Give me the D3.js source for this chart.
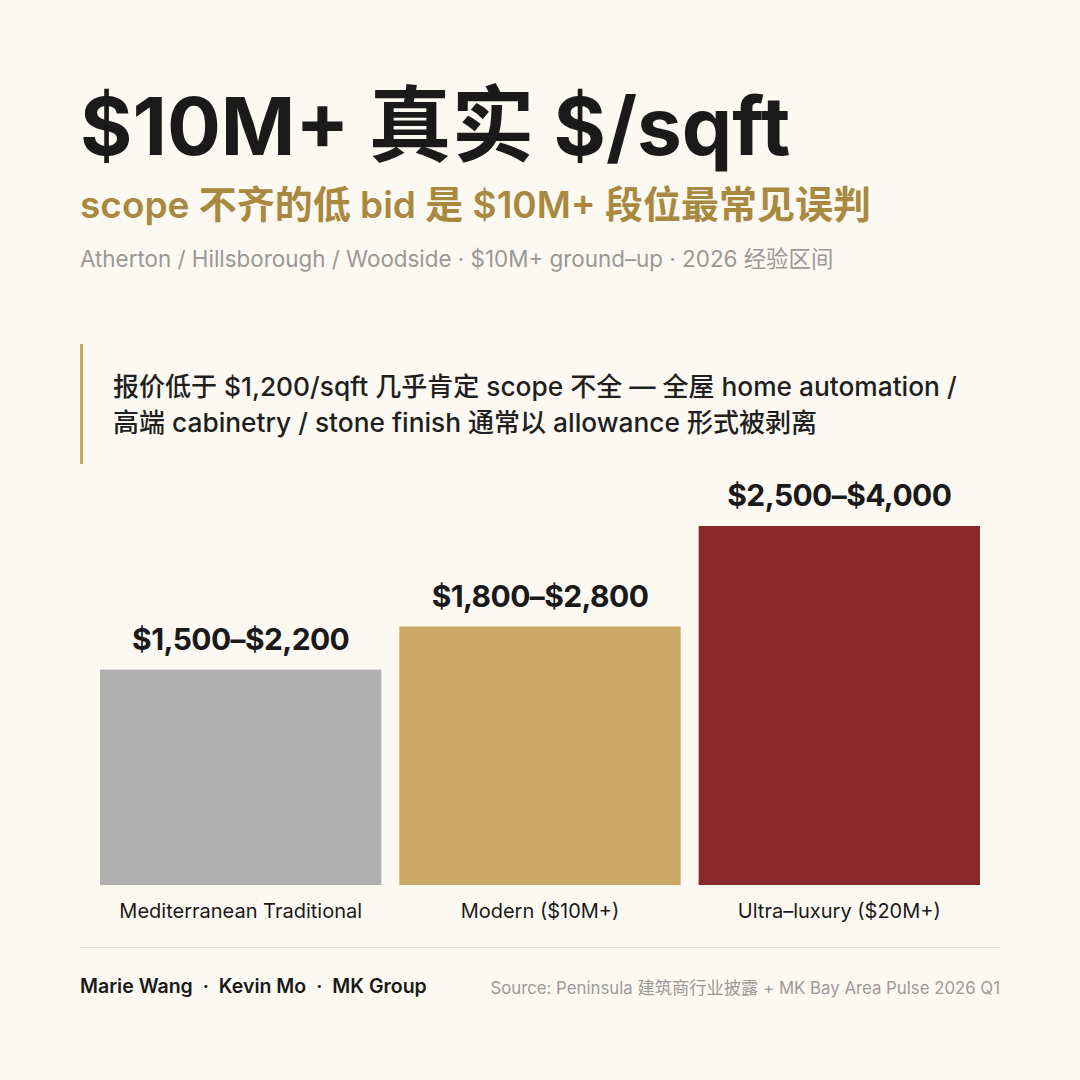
<!DOCTYPE html>
<html>
<head>
<meta charset="utf-8">
<script src="https://cdn.jsdelivr.net/npm/d3@7"></script>
<style>
  html, body { margin: 0; padding: 0; background: #fcf9f2; }
  svg { display: block; font-family: Inter, "Noto Sans CJK SC", sans-serif; }
</style>
</head>
<body>
<svg></svg>
<script>
// data
const categories = ['Mediterranean Traditional', 'Modern ($10M+)', 'Ultra-luxury ($20M+)'];
const lowValues = [1500, 1800, 2500];
const highValues = [2200, 2800, 4000];
const barColors = ['#b0b0b0', '#c9a865', '#8a292c'];

const W = 1080, H = 1080;
const svg = d3.select('svg')
    .attr('width', W)
    .attr('height', H);

svg.append('rect')
    .attr('width', W)
    .attr('height', H)
    .attr('fill', '#fcf9f2');

const fmt = d3.format('$,');

// mixed latin / CJK text: the CJK runs get their own size
const cjkRe = /[\u3000-\u9fff\uff00-\uffef]/;
function rich(x, y, str, latinSize, cjkSize) {
  const t = svg.append('text').attr('x', x).attr('y', y);
  const runs = str.match(/[\u3000-\u9fff\uff00-\uffef]+|[^\u3000-\u9fff\uff00-\uffef]+/g);
  runs.forEach(r => {
    t.append('tspan')
      .attr('font-size', cjkRe.test(r) ? cjkSize : latinSize)
      .text(r);
  });
  return t;
}

// header
rich(80, 155, '$10M+ 真实 $/sqft', 80, 83)
    .attr('font-weight', 700)
    .attr('fill', '#1a1a1a');

rich(80, 218, 'scope 不齐的低 bid 是 $10M+ 段位最常见误判', 37, 38)
    .attr('font-weight', 600)
    .attr('fill', '#a8893f');

rich(80, 267, 'Atherton / Hillsborough / Woodside · $10M+ ground–up · 2026 经验区间', 22.4, 22.4)
    .attr('fill', '#999896');

// callout
svg.append('rect')
    .attr('x', 80)
    .attr('y', 344)
    .attr('width', 3)
    .attr('height', 120)
    .attr('fill', '#c9a865');

rich(113, 396, '报价低于 $1,200/sqft 几乎肯定 scope 不全 — 全屋 home automation /', 26.3, 26)
    .attr('font-weight', 500)
    .attr('fill', '#1f1f1f');
rich(113, 432, '高端 cabinetry / stone finish 通常以 allowance 形式被剥离', 26.3, 26)
    .attr('font-weight', 500)
    .attr('fill', '#1f1f1f');

// chart
const x = d3.scaleBand()
    .domain(categories)
    .range([100, 980])
    .paddingInner(0.06)
    .paddingOuter(0);

const y = d3.scaleLinear()
    .domain([0, 2500])
    .range([885, 526]);

const bars = svg.append('g').selectAll('g')
    .data(categories)
    .enter().append('g');

bars.append('rect')
    .attr('x', d => x(d))
    .attr('y', (d, i) => y(lowValues[i]))
    .attr('width', x.bandwidth())
    .attr('height', (d, i) => y(0) - y(lowValues[i]))
    .attr('fill', (d, i) => barColors[i]);

bars.append('text')
    .attr('x', d => x(d) + x.bandwidth() / 2)
    .attr('y', (d, i) => y(lowValues[i]) - 20)
    .attr('text-anchor', 'middle')
    .attr('font-size', 30)
    .attr('font-weight', 700)
    .attr('letter-spacing', -0.6)
    .attr('fill', '#1a1a1a')
    .text((d, i) => fmt(lowValues[i]) + '–' + fmt(highValues[i]));

const xAxis = svg.append('g')
    .attr('transform', 'translate(0,885)')
    .call(d3.axisBottom(x).tickSize(0).tickPadding(19).tickFormat(d => d.replace('-', '–')));
xAxis.select('.domain').remove();
xAxis.selectAll('text')
    .attr('font-size', 20)
    .attr('font-family', 'Inter, "Noto Sans CJK SC", sans-serif')
    .attr('fill', '#1a1a1a');

// footer
svg.append('line')
    .attr('x1', 80).attr('x2', 1000)
    .attr('y1', 947.5).attr('y2', 947.5)
    .attr('stroke', '#dddad3')
    .attr('stroke-width', 1);

const authors = ['Marie Wang', 'Kevin Mo', 'MK Group'];
const byline = svg.append('text')
    .attr('x', 80)
    .attr('y', 993)
    .attr('font-size', 19.5)
    .attr('font-weight', 600)
    .attr('fill', '#1a1a1a');
authors.forEach((a, i) => {
  if (i > 0) byline.append('tspan').attr('dx', 5).text(' · ');
  byline.append('tspan').attr('dx', i > 0 ? 5 : 0).text(a);
});

rich(1000, 994, 'Source: Peninsula 建筑商行业披露 + MK Bay Area Pulse 2026 Q1', 16.8, 17.3)
    .attr('text-anchor', 'end')
    .attr('fill', '#9a9a9a');
</script>
</body>
</html>
